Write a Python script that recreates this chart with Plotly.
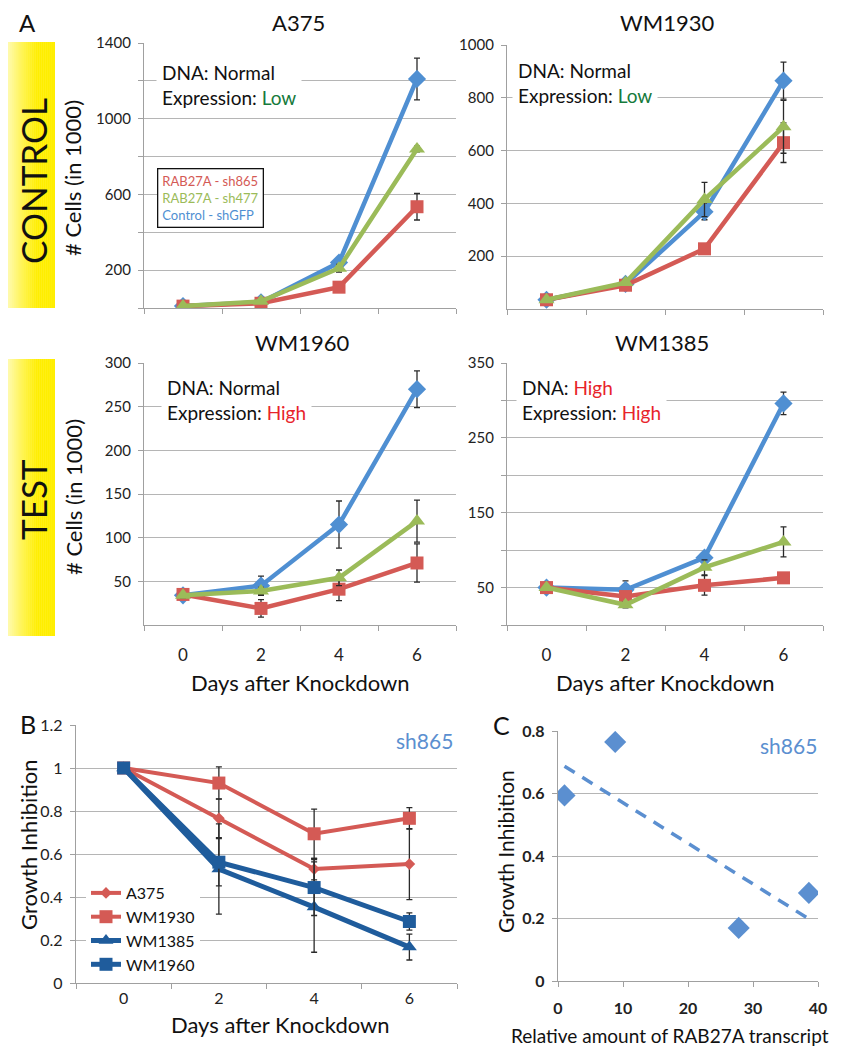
import numpy as np
import plotly.graph_objects as go

# ---------------- data ----------------
days = [0, 2, 4, 6]
series_names = ["RAB27A - sh865", "RAB27A - sh477", "Control - shGFP"]

a375_sh865 = [10, 25, 110, 535]
a375_sh865_err = [5, 5, 15, 70]
a375_sh477 = [10, 35, 210, 840]
a375_sh477_err = [3, 5, 20, 15]
a375_shgfp = [10, 30, 240, 1210]
a375_shgfp_err = [3, 5, 20, 110]

wm1930_sh865 = [35, 90, 228, 630]
wm1930_sh865_err = [5, 8, 20, 75]
wm1930_sh477 = [35, 100, 415, 690]
wm1930_sh477_err = [5, 8, 65, 100]
wm1930_shgfp = [35, 95, 368, 865]
wm1930_shgfp_err = [5, 8, 30, 70]

wm1960_sh865 = [35, 19, 41, 71]
wm1960_sh865_err = [3, 10, 13, 22]
wm1960_sh477 = [34, 39, 54, 119]
wm1960_sh477_err = [3, 4, 9, 24]
wm1960_shgfp = [34, 45, 115, 270]
wm1960_shgfp_err = [3, 11, 27, 21]

wm1385_sh865 = [50, 38, 53, 63]
wm1385_sh865_err = [2, 4, 13, 3]
wm1385_sh477 = [50, 27, 77, 111]
wm1385_sh477_err = [2, 4, 10, 20]
wm1385_shgfp = [50, 47, 90, 296]
wm1385_shgfp_err = [2, 12, 5, 15]

b_names = ["A375", "WM1930", "WM1385", "WM1960"]
b_a375 = [1.0, 0.766, 0.53, 0.553]
b_a375_err = [0, 0.09, 0.05, 0.165]
b_wm1930 = [1.0, 0.93, 0.694, 0.766]
b_wm1930_err = [0, 0.075, 0.115, 0.05]
b_wm1385 = [1.0, 0.53, 0.353, 0.167]
b_wm1385_err = [0, 0.21, 0.21, 0.06]
b_wm1960 = [1.0, 0.562, 0.444, 0.286]
b_wm1960_err = [0, 0.11, 0.13, 0.04]

c_transcript = [1.0, 8.8, 27.8, 38.6]
c_inhibition = [0.594, 0.765, 0.170, 0.282]

# ---------------- style ----------------
OFF = 8            # browser body margin
W, H = 844 - OFF, 1050 - OFF
FONT = "Lato"
RED = "#d45a55"
GREEN = "#9bbb59"
BLUE = "#4f8fd2"
DBLUE = "#1f5c9c"
SHBLUE = "#5b8fd0"
TXTGREEN = "#177a3c"
TXTRED = "#e8232a"
GRID = "#b5b5b5"
AXIS = "#a0a0a0"
ERR = "#2a2a2a"


def px(x):
    return (x - OFF) / W


def py(y):
    return 1 - (y - OFF) / H


fig = go.Figure()


def err(arr, th=1.3):
    return dict(type="data", array=arr, visible=True, color=ERR, thickness=th, width=3)


def add_panel(idx, red, red_e, green, green_e, blue, blue_e):
    xa = "x" if idx == 1 else f"x{idx}"
    ya = "y" if idx == 1 else f"y{idx}"
    fig.add_trace(go.Scatter(x=days, y=blue, xaxis=xa, yaxis=ya, mode="lines+markers",
                             line=dict(color=BLUE, width=4.5),
                             marker=dict(symbol="diamond", size=14, color=BLUE),
                             error_y=err(blue_e), showlegend=False, name=series_names[2]))
    fig.add_trace(go.Scatter(x=days, y=red, xaxis=xa, yaxis=ya, mode="lines+markers",
                             line=dict(color=RED, width=4.5),
                             marker=dict(symbol="square", size=13, color=RED),
                             error_y=err(red_e), showlegend=False, name=series_names[0]))
    fig.add_trace(go.Scatter(x=days, y=green, xaxis=xa, yaxis=ya, mode="lines+markers",
                             line=dict(color=GREEN, width=4.5),
                             marker=dict(symbol="triangle-up", size=14, color=GREEN),
                             error_y=err(green_e), showlegend=False, name=series_names[1]))


add_panel(1, a375_sh865, a375_sh865_err, a375_sh477, a375_sh477_err, a375_shgfp, a375_shgfp_err)
add_panel(2, wm1930_sh865, wm1930_sh865_err, wm1930_sh477, wm1930_sh477_err, wm1930_shgfp, wm1930_shgfp_err)
add_panel(3, wm1960_sh865, wm1960_sh865_err, wm1960_sh477, wm1960_sh477_err, wm1960_shgfp, wm1960_shgfp_err)
add_panel(4, wm1385_sh865, wm1385_sh865_err, wm1385_sh477, wm1385_sh477_err, wm1385_shgfp, wm1385_shgfp_err)

# Panel B
b_specs = [
    (b_a375, b_a375_err, RED, "diamond", 9, 4),
    (b_wm1930, b_wm1930_err, RED, "square", 13, 4),
    (b_wm1385, b_wm1385_err, DBLUE, "triangle-up", 13, 5),
    (b_wm1960, b_wm1960_err, DBLUE, "square", 13, 5),
]
for name, (vals, e, col, sym, ms, lw) in zip(b_names, b_specs):
    fig.add_trace(go.Scatter(x=days, y=vals, xaxis="x5", yaxis="y5", mode="lines+markers",
                             name=name, line=dict(color=col, width=lw),
                             marker=dict(symbol=sym, size=ms, color=col),
                             error_y=err(e), showlegend=True))

# Panel C
coef = np.polyfit(c_transcript, c_inhibition, 1)
xfit = np.array([min(c_transcript), max(c_transcript)])
fig.add_trace(go.Scatter(x=xfit, y=np.polyval(coef, xfit), xaxis="x6", yaxis="y6", mode="lines",
                         line=dict(color=SHBLUE, width=3.5, dash="12px,9px"), showlegend=False))
fig.add_trace(go.Scatter(x=c_transcript, y=c_inhibition, xaxis="x6", yaxis="y6", mode="markers",
                         marker=dict(symbol="diamond", size=17, color=SHBLUE), showlegend=False))

# ---------------- axes ----------------


def xcat(domain, anchor, labels, standoff=14, fsize=17):
    return dict(domain=domain, anchor=anchor, range=[-1, 7], tickvals=days,
                ticktext=[str(d) for d in days], showticklabels=labels, ticks="",
                showgrid=False, zeroline=False, showline=True, linecolor=AXIS, linewidth=1.3,
                automargin=False, ticklabelstandoff=standoff,
                tickfont=dict(family=FONT, size=fsize, color="#222"),
                minor=dict(tickvals=[-1, 1, 3, 5, 7], ticks="outside", ticklen=5,
                           tickcolor=AXIS, tickwidth=1.3, showgrid=False))


def yax(domain, anchor, rng, tickvals, minor_dtick=None, fsize=15):
    d = dict(domain=domain, anchor=anchor, range=rng, tickvals=tickvals,
             showgrid=True, gridcolor=GRID, gridwidth=1.3, zeroline=False, automargin=False,
             showline=True, linecolor=AXIS, linewidth=1.3, ticks="outside", ticklen=5,
             tickcolor=AXIS, tickwidth=1.3, ticklabelstandoff=4,
             tickfont=dict(family=FONT, size=fsize, color="#222"))
    if minor_dtick:
        d["minor"] = dict(dtick=minor_dtick, tick0=0, showgrid=True, gridcolor=GRID, gridwidth=1.3,
                          ticks="outside", ticklen=5, tickcolor=AXIS, tickwidth=1.3)
    return d


layout_axes = dict(
    xaxis=xcat([px(144), px(456)], "y", False),
    yaxis=yax([py(308), py(43)], "x", [0, 1400], [200, 600, 1000, 1400], 200),
    xaxis2=xcat([px(507), px(823)], "y2", False),
    yaxis2=yax([py(309), py(45)], "x2", [0, 1000], [200, 400, 600, 800, 1000]),
    xaxis3=xcat([px(144), px(456)], "y3", True),
    yaxis3=yax([py(625), py(363)], "x3", [0, 300], [50, 100, 150, 200, 250, 300]),
    xaxis4=xcat([px(507), px(823)], "y4", True),
    yaxis4=yax([py(625), py(363)], "x4", [0, 350], [50, 150, 250, 350], 50),
    xaxis5=xcat([px(76), px(457)], "y5", True, standoff=1, fsize=16),
    yaxis5=yax([py(983), py(725)], "x5", [0, 1.2], [0, 0.2, 0.4, 0.6, 0.8, 1.0, 1.2], None, 16),
    xaxis6=dict(domain=[px(558), px(818)], anchor="y6", range=[0, 40], tickvals=[0, 10, 20, 30, 40],
                showgrid=False, zeroline=False, showline=True, linecolor=AXIS, linewidth=1.3,
                ticks="outside", ticklen=5, tickcolor=AXIS, tickwidth=1.3, ticklabelstandoff=8,
                automargin=False,
                tickfont=dict(family=FONT, size=16, color="#222", weight="bold")),
    yaxis6=dict(domain=[py(981), py(731)], anchor="x6", range=[0, 0.8],
                tickvals=[0, 0.2, 0.4, 0.6, 0.8], showgrid=True, gridcolor=GRID, gridwidth=1.3,
                zeroline=False, showline=True, linecolor=AXIS, linewidth=1.3, ticks="outside",
                ticklen=5, tickcolor=AXIS, tickwidth=1.3, ticklabelstandoff=4, automargin=False,
                tickfont=dict(family=FONT, size=16, color="#222", weight="bold")),
)
layout_axes["yaxis5"]["ticktext"] = ["0", "0.2", "0.4", "0.6", "0.8", "1", "1.2"]

# ---------------- annotations ----------------
ann = []


def text(x, y, s, size, color="#111", angle=0, xanchor="center", yanchor="middle", **kw):
    ann.append(dict(x=px(x), y=py(y), xref="paper", yref="paper", text=s, showarrow=False,
                    font=dict(family=FONT, size=size, color=color), textangle=angle,
                    xanchor=xanchor, yanchor=yanchor, **kw))


text(27, 22, "A", 24)
text(28, 724, "B", 25)
text(501, 725, "C", 25)

text(298, 22, "A375", 22)
text(667, 22, "WM1930", 22)
text(302, 343, "WM1960", 22)
text(662, 343, "WM1385", 22)

text(73, 178, "# Cells (in 1000)", 22, angle=-90)
text(73, 497, "# Cells (in 1000)", 22, angle=-90)
text(300, 682, "Days after Knockdown", 22)
text(665, 682, "Days after Knockdown", 22)
text(280, 1024, "Days after Knockdown", 22)
text(28, 845, "Growth Inhibition", 22, angle=-90)
text(505, 852, "Growth Inhibition", 21, angle=-90)
text(670, 1035, "Relative amount of RAB27A transcript", 19)

text(424, 740, "sh865", 21, color=SHBLUE)
text(788, 745, "sh865", 21, color=SHBLUE)


def info(x, y, dna, dnacol, expr, exprcol):
    d = dna if dnacol is None else f"<span style='color:{dnacol}'>{dna}</span>"
    s = f"DNA: {d}<br>Expression: <span style='color:{exprcol}'>{expr}</span>"
    text(x, y, s, 19, xanchor="left", align="left", bgcolor="white", borderpad=5)


info(156, 85, "Normal", None, "Low", TXTGREEN)
info(512, 83, "Normal", None, "Low", TXTGREEN)
info(161, 400, "Normal", None, "High", TXTRED)
info(516, 400, "High", TXTRED, "High", TXTRED)

legend_txt = (f"<span style='color:{RED}'>RAB27A - sh865</span><br>"
              f"<span style='color:{GREEN}'>RAB27A - sh477</span><br>"
              f"<span style='color:{BLUE}'>Control - shGFP</span>")
text(210, 198, legend_txt, 13, xanchor="center", align="left", bgcolor="white",
     bordercolor="#111", borderwidth=1.3, borderpad=4)

# rotated labels on gradient boxes
text(33, 181, "CONTROL", 35, angle=-90)
text(33, 500, "TEST", 35, angle=-90)

# ---------------- gradient boxes ----------------
shapes = []
N = 28
box_w = 55
for (y0, y1) in [(42, 308), (359, 636)]:
    for i in range(N):
        xa0 = box_w * i / N
        xa1 = box_w * (i + 1) / N + 0.4
        s = min(1.0, ((i + 0.5) / N) / 0.68)
        s = s ** 0.8
        r = 255
        g = int(round(255 - (255 - 238) * s))
        b = int(round(250 * (1 - s)))
        shapes.append(dict(type="rect", xref="paper", yref="paper", x0=px(xa0), x1=px(min(xa1, box_w)),
                           y0=py(y1), y1=py(y0), fillcolor=f"rgb({r},{g},{b})", line=dict(width=0),
                           layer="below"))

fig.update_layout(
    width=W, height=H, margin=dict(l=0, r=0, t=0, b=0, pad=0, autoexpand=False),
    paper_bgcolor="white", plot_bgcolor="white",
    font=dict(family=FONT, color="#111"),
    annotations=ann, shapes=shapes,
    legend=dict(x=px(86), y=py(876), xanchor="left", yanchor="top", bgcolor="white",
                font=dict(family=FONT, size=16, color="#111"), tracegroupgap=0,
                itemwidth=30),
    **layout_axes,
)

fig.write_html("out.html")
